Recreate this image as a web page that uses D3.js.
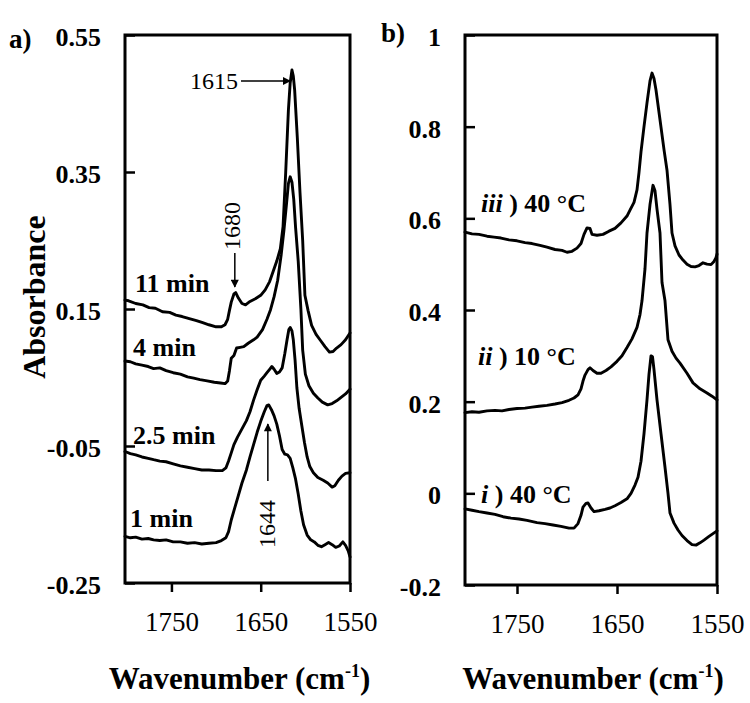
<!DOCTYPE html>
<html>
<head>
<meta charset="utf-8">
<script src="https://cdn.jsdelivr.net/npm/d3@7"></script>
</head>
<body style="margin:0;padding:0;background:#fff">
<svg id="chart" width="750" height="703" style="display:block"></svg>
<script>
// ---------- DATA (wavenumber cm^-1, absorbance) ----------
const xDomain = [1802, 1550];
const xTickValues = [1750, 1650, 1550];
const xTickLabels = ["1750", "1650", "1550"];

const yDomainA = [-0.25, 0.55];
const yTickValuesA = [0.55, 0.35, 0.15, -0.05, -0.25];
const yTickLabelsA = ["0.55", "0.35", "0.15", "-0.05", "-0.25"];

const yDomainB = [-0.2, 1];
const yTickValuesB = [1, 0.8, 0.6, 0.4, 0.2, 0, -0.2];
const yTickLabelsB = ["1", "0.8", "0.6", "0.4", "0.2", "0", "-0.2"];

const seriesNamesA = ["11 min", "4 min", "2.5 min", "1 min"];
const seriesNamesB = ["iii", "ii", "i"];
const seriesTempsB = [") 40 °C", ") 10 °C", ") 40 °C"];

const min11 = [[1802,0.163],[1798,0.162],[1790,0.158],[1782,0.156],[1775,0.152],[1768,0.151],[1760,0.146],[1752,0.145],[1745,0.141],[1738,0.139],[1730,0.136],[1722,0.133],[1715,0.130],[1708,0.127],[1700,0.124],[1694,0.124],[1690,0.127],[1687,0.135],[1685,0.148],[1683,0.160],[1680,0.172],[1678,0.174],[1675,0.166],[1671,0.158],[1667,0.156],[1662,0.161],[1656,0.165],[1650,0.170],[1645,0.178],[1640,0.190],[1636,0.205],[1632,0.220],[1628,0.238],[1625,0.27],[1622,0.35],[1619,0.44],[1617,0.48],[1615,0.499],[1613.5,0.49],[1612,0.47],[1609,0.40],[1606,0.32],[1603,0.25],[1600.5,0.17],[1597,0.148],[1593,0.126],[1588,0.113],[1583,0.104],[1578,0.095],[1573,0.087],[1569,0.088],[1565,0.093],[1560,0.098],[1555,0.105],[1550,0.115]];

const min4 = [[1802,0.074],[1796,0.073],[1790,0.070],[1783,0.068],[1776,0.066],[1770,0.063],[1763,0.064],[1756,0.060],[1748,0.057],[1740,0.055],[1732,0.051],[1725,0.049],[1718,0.047],[1710,0.045],[1702,0.043],[1695,0.042],[1690,0.041],[1687,0.045],[1685,0.060],[1683,0.078],[1680,0.082],[1677,0.093],[1673,0.094],[1669,0.095],[1664,0.100],[1658,0.105],[1654,0.109],[1648,0.120],[1643,0.135],[1639,0.149],[1635,0.168],[1631,0.192],[1627,0.230],[1624,0.265],[1621,0.305],[1619,0.333],[1617,0.343],[1615,0.335],[1613,0.31],[1611,0.27],[1608,0.22],[1605,0.15],[1603,0.09],[1600,0.055],[1596,0.038],[1591,0.027],[1586,0.020],[1581,0.014],[1575,0.010],[1570,0.012],[1565,0.016],[1560,0.021],[1555,0.026],[1550,0.033]];

const min25 = [[1802,-0.058],[1796,-0.061],[1790,-0.063],[1783,-0.066],[1776,-0.068],[1770,-0.070],[1763,-0.072],[1756,-0.073],[1748,-0.076],[1740,-0.079],[1732,-0.081],[1724,-0.083],[1716,-0.085],[1708,-0.085],[1700,-0.086],[1693,-0.086],[1689,-0.082],[1686,-0.072],[1683,-0.060],[1680,-0.048],[1676,-0.037],[1671,-0.025],[1666,-0.013],[1662,0.000],[1658,0.017],[1654,0.032],[1650,0.046],[1646,0.052],[1643,0.057],[1640,0.062],[1637.5,0.066],[1635,0.062],[1632,0.056],[1629,0.058],[1626,0.064],[1623,0.085],[1620.5,0.105],[1618.5,0.120],[1617,0.123],[1615,0.118],[1613.5,0.105],[1611.5,0.075],[1609.5,0.035],[1607,0.005],[1604,-0.020],[1601,-0.045],[1598,-0.066],[1595,-0.080],[1591,-0.089],[1586,-0.096],[1580,-0.100],[1575,-0.104],[1570,-0.110],[1567,-0.108],[1563,-0.100],[1559,-0.094],[1555,-0.090],[1550,-0.089]];

const min1 = [[1802,-0.182],[1796,-0.184],[1790,-0.183],[1783,-0.186],[1776,-0.185],[1770,-0.187],[1763,-0.188],[1756,-0.187],[1748,-0.190],[1740,-0.190],[1732,-0.192],[1724,-0.191],[1716,-0.193],[1708,-0.192],[1700,-0.191],[1694,-0.188],[1689,-0.184],[1686,-0.175],[1683,-0.158],[1679,-0.140],[1675,-0.122],[1671,-0.104],[1666,-0.085],[1662,-0.066],[1658,-0.048],[1654,-0.030],[1650,-0.014],[1646,0.000],[1643,0.009],[1641,0.010],[1638,0.003],[1635,-0.006],[1632,-0.018],[1629,-0.035],[1626,-0.055],[1623,-0.062],[1620,-0.063],[1617,-0.068],[1614,-0.082],[1611,-0.098],[1608,-0.120],[1605,-0.145],[1602,-0.165],[1598,-0.180],[1594,-0.187],[1590,-0.190],[1586,-0.195],[1582,-0.197],[1578,-0.194],[1574,-0.191],[1570,-0.194],[1566,-0.198],[1562,-0.196],[1558,-0.190],[1555,-0.195],[1552,-0.203],[1550,-0.212]];

const tempIII = [[1802,0.570],[1795,0.566],[1788,0.565],[1780,0.561],[1773,0.559],[1766,0.557],[1758,0.553],[1750,0.551],[1742,0.547],[1735,0.545],[1727,0.541],[1720,0.537],[1712,0.532],[1705,0.530],[1700,0.526],[1695,0.528],[1690,0.535],[1686,0.545],[1683,0.565],[1680,0.579],[1677,0.578],[1675,0.565],[1670,0.563],[1664,0.565],[1658,0.572],[1652,0.578],[1646,0.590],[1640,0.605],[1637,0.618],[1633,0.635],[1630,0.662],[1628,0.70],[1626,0.745],[1623,0.80],[1620,0.852],[1617,0.900],[1615,0.917],[1613,0.905],[1611,0.88],[1607,0.815],[1603,0.75],[1600,0.705],[1597,0.63],[1595,0.568],[1592,0.540],[1588,0.520],[1584,0.509],[1580,0.500],[1576,0.495],[1572,0.494],[1568,0.497],[1564,0.503],[1560,0.500],[1556,0.499],[1553,0.506],[1551,0.514],[1550,0.522]];

const tempII = [[1802,0.176],[1795,0.178],[1788,0.177],[1780,0.180],[1772,0.181],[1765,0.180],[1758,0.183],[1750,0.185],[1742,0.186],[1735,0.188],[1728,0.190],[1720,0.192],[1712,0.195],[1705,0.198],[1698,0.203],[1693,0.208],[1689,0.215],[1686,0.228],[1684,0.245],[1682,0.258],[1679,0.270],[1677,0.274],[1674,0.268],[1670,0.262],[1666,0.262],[1661,0.268],[1656,0.276],[1650,0.288],[1645,0.300],[1640,0.318],[1635,0.337],[1630,0.362],[1627,0.39],[1625,0.42],[1622,0.49],[1620,0.568],[1617,0.63],[1614,0.672],[1612,0.66],[1610,0.62],[1607,0.568],[1605,0.46],[1602,0.42],[1599,0.335],[1595,0.310],[1591,0.295],[1587,0.284],[1580,0.262],[1574,0.241],[1567,0.228],[1560,0.219],[1555,0.212],[1550,0.204]];

const tempI = [[1802,-0.034],[1795,-0.037],[1788,-0.040],[1780,-0.043],[1772,-0.046],[1764,-0.051],[1756,-0.054],[1748,-0.056],[1740,-0.059],[1730,-0.064],[1722,-0.066],[1714,-0.069],[1706,-0.072],[1698,-0.076],[1693,-0.076],[1689,-0.066],[1686,-0.048],[1684,-0.030],[1681,-0.022],[1679,-0.021],[1676,-0.032],[1673,-0.040],[1668,-0.038],[1662,-0.035],[1657,-0.032],[1652,-0.027],[1646,-0.020],[1640,-0.012],[1636,0.000],[1632,0.018],[1629,0.035],[1626,0.070],[1623,0.130],[1620,0.204],[1618,0.260],[1616,0.300],[1614.5,0.298],[1613,0.27],[1610,0.204],[1606,0.13],[1602,0.057],[1599,0.000],[1597,-0.043],[1593,-0.065],[1589,-0.080],[1585,-0.092],[1580,-0.103],[1575,-0.112],[1571,-0.113],[1567,-0.108],[1563,-0.102],[1558,-0.094],[1554,-0.088],[1550,-0.082]];

const seriesA = [min11, min4, min25, min1];
const seriesB = [tempIII, tempII, tempI];

// annotation values
const peakLabels = ["1615", "1680", "1644"];

// ---------- LAYOUT ----------
const FONT = "Liberation Serif";
const svg = d3.select("#chart");
const panels = [
  { left: 125, right: 350, top: 35, bottom: 583, yDomain: yDomainA, yTicks: yTickValuesA, yLabels: yTickLabelsA, letter: "a)" },
  { left: 465, right: 717, top: 35, bottom: 585, yDomain: yDomainB, yTicks: yTickValuesB, yLabels: yTickLabelsB, letter: "b)" }
];
panels.forEach(p => {
  p.x = d3.scaleLinear().domain(xDomain).range([p.left, p.right]);
  p.y = d3.scaleLinear().domain(p.yDomain).range([p.bottom, p.top]);
});

function drawFrame(p) {
  // x axis (outward ticks)
  const xa = svg.append("g")
    .attr("transform", `translate(0,${p.bottom})`)
    .call(d3.axisBottom(p.x).tickValues(xTickValues)
      .tickFormat((d, i) => xTickLabels[i]).tickSizeInner(9).tickSizeOuter(0).tickPadding(36));
  xa.select(".domain").remove();
  xa.selectAll(".tick line").attr("stroke", "#000").attr("stroke-width", 2.5);
  xa.selectAll(".tick text").style("font-size", "27px").attr("dy", "0.1em");

  // y axis (inward ticks)
  const ya = svg.append("g")
    .attr("transform", `translate(${p.left},0)`)
    .call(d3.axisLeft(p.y).tickValues(p.yTicks)
      .tickFormat((d, i) => p.yLabels[i]).tickSizeInner(-10).tickSizeOuter(0).tickPadding(24));
  ya.select(".domain").remove();
  ya.selectAll(".tick line").attr("stroke", "#000").attr("stroke-width", 2.5);
  ya.selectAll(".tick text").style("font-size", "26px").style("font-weight", "bold").attr("dy", "0.4em");

  svg.append("rect")
    .attr("x", p.left).attr("y", p.top)
    .attr("width", p.right - p.left).attr("height", p.bottom - p.top)
    .attr("fill", "none").attr("stroke", "#000").attr("stroke-width", 3);

  // x title
  const t = svg.append("text")
    .attr("x", (p.left + p.right) / 2 + 2).attr("y", 689)
    .attr("text-anchor", "middle").style("font-size", "31px").style("font-weight", "bold");
  t.append("tspan").text("Wavenumber (cm");
  t.append("tspan").style("font-size", "18px").attr("dy", -12).text("-1");
  t.append("tspan").attr("dy", 12).text(")");
}
panels.forEach(drawFrame);

// panel letters
svg.append("text").attr("x", 9).attr("y", 48).style("font-size", "27px").style("font-weight", "bold").text(panels[0].letter);
svg.append("text").attr("x", 381).attr("y", 42).style("font-size", "27px").style("font-weight", "bold").text(panels[1].letter);

// y title
svg.append("text")
  .attr("transform", "translate(45,297) rotate(-90)")
  .attr("text-anchor", "middle").style("font-size", "32px").style("font-weight", "bold")
  .text("Absorbance");

// ---------- CURVES ----------
function drawSeries(p, list) {
  const line = d3.line().x(d => p.x(d[0])).y(d => p.y(d[1]));
  svg.append("g").selectAll("path").data(list).join("path")
    .attr("d", line)
    .attr("fill", "none").attr("stroke", "#000")
    .attr("stroke-width", 2.9).attr("stroke-linejoin", "round").attr("stroke-linecap", "round");
}
drawSeries(panels[0], seriesA);
drawSeries(panels[1], seriesB);

// ---------- SERIES LABELS ----------
const labPosA = [[135, 292], [133, 356], [133, 444], [130, 527]];
seriesNamesA.forEach((n, i) => {
  svg.append("text").attr("x", labPosA[i][0]).attr("y", labPosA[i][1])
    .style("font-size", "26px").style("font-weight", "bold").text(n);
});
const labPosB = [[481, 212], [478, 365], [481, 503]];
seriesNamesB.forEach((n, i) => {
  const t = svg.append("text").attr("x", labPosB[i][0]).attr("y", labPosB[i][1])
    .style("font-size", "26px").style("font-weight", "bold");
  t.append("tspan").style("font-style", "italic").text(n);
  t.append("tspan").text(" " + seriesTempsB[i]);
});

// ---------- ANNOTATIONS ----------
const defs = svg.append("defs");
defs.append("marker").attr("id", "ah").attr("viewBox", "0 0 10 10")
  .attr("refX", 9).attr("refY", 5).attr("markerWidth", 10).attr("markerHeight", 8)
  .attr("markerUnits", "userSpaceOnUse").attr("orient", "auto")
  .append("path").attr("d", "M0,0 L10,5 L0,10 Z").attr("fill", "#000");

const pa = panels[0];
// 1615
svg.append("text").attr("x", 238).attr("y", 89).attr("text-anchor", "end")
  .style("font-size", "24px").text(peakLabels[0]);
svg.append("line").attr("x1", 241).attr("y1", 81).attr("x2", pa.x(1617)).attr("y2", 81)
  .attr("stroke", "#000").attr("stroke-width", 1.5).attr("marker-end", "url(#ah)");
// 1680
svg.append("text").attr("transform", `translate(${pa.x(1679) + 5},226) rotate(-90)`)
  .attr("text-anchor", "middle").style("font-size", "24px").text(peakLabels[1]);
svg.append("line").attr("x1", pa.x(1679)).attr("y1", 253).attr("x2", pa.x(1679)).attr("y2", 287)
  .attr("stroke", "#000").attr("stroke-width", 1.5).attr("marker-end", "url(#ah)");
// 1644
svg.append("text").attr("transform", `translate(${pa.x(1642) + 7},524) rotate(-90)`)
  .attr("text-anchor", "middle").style("font-size", "24px").text(peakLabels[2]);
svg.append("line").attr("x1", pa.x(1642)).attr("y1", 481).attr("x2", pa.x(1642)).attr("y2", 424)
  .attr("stroke", "#000").attr("stroke-width", 1.5).attr("marker-end", "url(#ah)");

// font for all texts (inline style)
svg.selectAll("text").style("font-family", FONT).style("fill", "#000");
</script>
</body>
</html>
